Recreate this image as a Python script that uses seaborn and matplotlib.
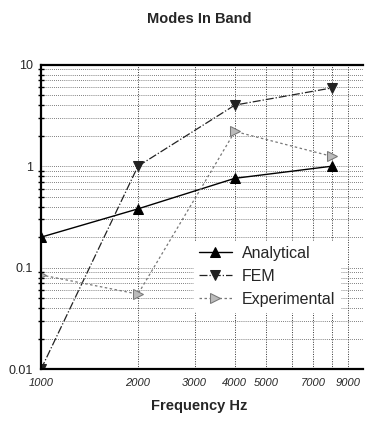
import numpy as np
import pandas as pd
import matplotlib
matplotlib.use("Agg")
import matplotlib.pyplot as plt
import matplotlib.ticker as mticker
import seaborn as sns

freq = [1000, 2000, 4000, 8000]
analytical = [0.2, 0.38, 0.76, 1.0]
fem = [0.01, 1.0, 4.0, 5.9]
experimental = [0.085, 0.055, 2.2, 1.25]

x_tick_pos = [1000, 2000, 3000, 4000, 5000, 6000, 7000, 8000, 9000]
x_tick_labels = ['1000', '2000', '3000', '4000', '5000', '', '7000', '', '9000']
y_tick_pos = [0.01, 0.1, 1, 10]
y_tick_labels = ['0.01', '0.1', '1', '10']

sns.set_style("white")
plt.rcParams['font.family'] = ['Liberation Sans', 'DejaVu Sans']

df = pd.DataFrame({'freq': freq * 3,
                   'modes': analytical + fem + experimental,
                   'series': ['Analytical'] * 4 + ['FEM'] * 4 + ['Experimental'] * 4})

fig = plt.figure(figsize=(3.66, 4.46), dpi=100)
ax = fig.add_axes([0.112, 0.172, 0.880, 0.683])

styles = {
    'Analytical': dict(color='black', ls='-', marker='^', ms=6.5, lw=1.0, mfc='black'),
    'FEM': dict(color='#222222', ls='-.', marker='v', ms=6.5, lw=0.9, mfc='#222222'),
    'Experimental': dict(color='#777777', ls=(0, (2, 2)), marker='>', ms=6.5, lw=0.9, mfc='#bbbbbb'),
}
for name in ['Analytical', 'FEM', 'Experimental']:
    sub = df[df.series == name]
    st = styles[name]
    sns.lineplot(data=sub, x='freq', y='modes', ax=ax, color=st['color'],
                 linestyle=st['ls'], lw=st['lw'], marker=st['marker'], markersize=st['ms'],
                 markerfacecolor=st['mfc'], markeredgecolor=st['color'], label=name)

ax.set_xscale('log')
ax.set_yscale('log')
ax.set_xlim(1000, 10000)
ax.set_ylim(0.01, 10)

ax.xaxis.set_major_locator(mticker.FixedLocator(x_tick_pos))
ax.xaxis.set_minor_locator(mticker.NullLocator())
ax.xaxis.set_major_formatter(mticker.FixedFormatter(x_tick_labels))
ax.yaxis.set_major_locator(mticker.FixedLocator(y_tick_pos))
ax.yaxis.set_major_formatter(mticker.FixedFormatter(y_tick_labels))
ax.yaxis.set_minor_locator(mticker.LogLocator(base=10, subs=np.arange(2, 10)))
ax.yaxis.set_minor_formatter(mticker.NullFormatter())

for lab in ax.get_xticklabels():
    lab.set_fontstyle('italic')
    lab.set_fontsize(8)
for lab in ax.get_yticklabels():
    lab.set_fontsize(9)

ax.tick_params(axis='x', which='major', direction='inout', length=6, width=1, color='black', pad=3)
ax.tick_params(axis='y', which='major', direction='inout', length=7, width=1, color='black', pad=2)
ax.tick_params(axis='y', which='minor', direction='inout', length=5, width=1, color='black', left=True)

ax.grid(True, which='both', axis='y', color='#555555', ls=(0, (1, 1.5)), lw=0.6)
ax.grid(True, which='major', axis='x', color='#333333', ls=(0, (1, 1.5)), lw=0.7)

ax.spines['right'].set_visible(False)
for s in ['left', 'bottom', 'top']:
    ax.spines[s].set_color('black')
    ax.spines[s].set_linewidth(1.6)

ax.set_xlabel('')
ax.set_ylabel('')
fig.text(0.545, 0.958, 'Modes In Band', ha='center', va='center', fontsize=10.5, fontweight='bold')
fig.text(0.545, 0.09, 'Frequency Hz', ha='center', va='center', fontsize=10.5, fontweight='bold')

leg = ax.legend(loc='center left', bbox_to_anchor=(0.45, 0.305), frameon=True, fontsize=11.5,
                handlelength=2.1, handletextpad=0.6, labelspacing=0.5, borderpad=0.3)
leg.get_frame().set_facecolor('white')
leg.get_frame().set_edgecolor('white')
leg.get_frame().set_alpha(1)

fig.savefig('out.png', dpi=100)
